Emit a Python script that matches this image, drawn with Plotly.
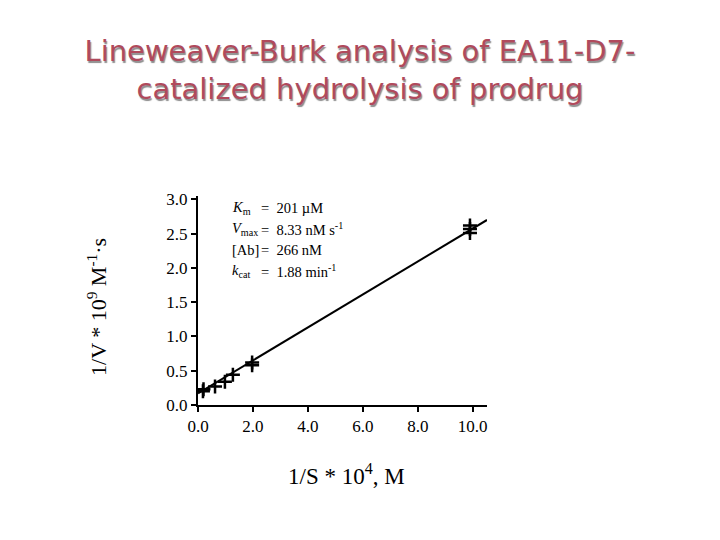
import plotly.graph_objects as go

# Lineweaver-Burk data
inv_s = [0.18, 0.2, 0.62, 0.98, 1.27, 1.97, 1.97, 9.9, 9.9, 9.9]   # 1/S * 10^4
inv_v = [0.20, 0.23, 0.27, 0.34, 0.44, 0.58, 0.62, 2.51, 2.57, 2.62]  # 1/V * 10^9

# fitted line end points
fit_x = [0.0, 10.52]
fit_y = [0.17, 2.70]

x_ticks = [0, 2, 4, 6, 8, 10]
x_tick_text = ["0.0", "2.0", "4.0", "6.0", "8.0", "10.0"]
y_ticks = [0, 0.5, 1.0, 1.5, 2.0, 2.5, 3.0]
y_tick_text = ["0.0", "0.5", "1.0", "1.5", "2.0", "2.5", "3.0"]

param_labels = ["<i>K</i><sub>m</sub>", "<i>V</i><sub>max</sub>", "[Ab]", "<i>k</i><sub>cat</sub>"]
param_values = ["=  201 \u00b5M", "=  8.33 nM s<sup>-1</sup>", "=  266 nM", "=  1.88 min<sup>-1</sup>"]

SERIF = "Liberation Serif, Times New Roman, serif"

# page body adds ~8px, so plot box is placed in div coords
L, T, B = 190, 187.5, 397.5
W = 289
H = B - T

fig = go.Figure()
fig.add_trace(go.Scatter(x=fit_x, y=fit_y, mode="lines",
                         line=dict(color="black", width=2), showlegend=False))
fig.add_trace(go.Scatter(x=inv_s, y=inv_v, mode="markers",
                         marker=dict(symbol="cross-thin", size=10,
                                     line=dict(color="black", width=2.5)),
                         showlegend=False))

axis_common = dict(showline=True, linecolor="black", linewidth=2, ticks="outside",
                   ticklen=5, tickwidth=1.5, tickcolor="black", showgrid=False,
                   zeroline=False, tickfont=dict(family=SERIF, size=17, color="black"))
fig.update_xaxes(range=[0, 10.52], tickvals=x_ticks, ticktext=x_tick_text, **axis_common)
fig.update_yaxes(range=[0, 3.05], tickvals=y_ticks, ticktext=y_tick_text, **axis_common)

# parameter box, one row per constant (positions in screen px)
row_y = [208, 229, 250, 271]
for lab, val, py in zip(param_labels, param_values, row_y):
    yp = (B - (py - 8)) / H
    fig.add_annotation(x=(230 - 8 - L) / W, y=yp, xref="paper", yref="paper",
                       text=lab, showarrow=False, xanchor="left", yanchor="middle",
                       font=dict(family=SERIF, size=14.5, color="black"))
    fig.add_annotation(x=(259 - 8 - L) / W, y=yp, xref="paper", yref="paper",
                       text=val, showarrow=False, xanchor="left", yanchor="middle",
                       font=dict(family=SERIF, size=14.5, color="black"))

# axis titles
fig.add_annotation(x=0, y=(B - (307 - 8)) / H, xref="paper", yref="paper", xshift=-101,
                   text="1/V * 10<sup>9</sup> M<sup>-1</sup>\u00b7s", textangle=-90,
                   showarrow=False, xanchor="center", yanchor="middle",
                   font=dict(family=SERIF, size=22, color="black"))
fig.add_annotation(x=(346 - 8 - L) / W, y=0, xref="paper", yref="paper", yshift=-(475 - 8 - B),
                   text="1/S * 10<sup>4</sup>, M", showarrow=False,
                   xanchor="center", yanchor="middle",
                   font=dict(family=SERIF, size=23, color="black"))

fig.update_layout(
    width=720, height=540,
    margin=dict(l=L, r=720 - L - W, t=T, b=540 - B),
    paper_bgcolor="white", plot_bgcolor="white",
    title=dict(text="Lineweaver-Burk analysis of EA11-D7-<br>catalized hydrolysis of prodrug",
               x=(360 - 8) / 720, xanchor="center", y=1 - (61 - 8) / 540, yanchor="middle",
               font=dict(family="DejaVu Sans", size=29, color="#b04a5c",
                         shadow="1px 2px 1px #8c8c8c")),
)

fig.write_html("out.html")
